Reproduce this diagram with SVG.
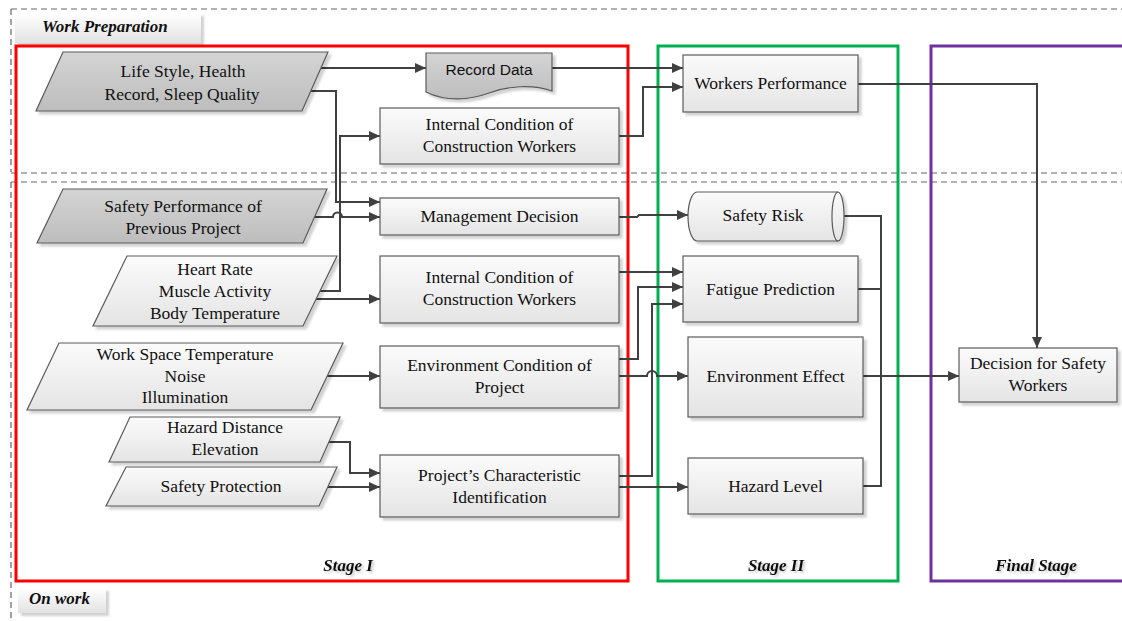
<svg xmlns="http://www.w3.org/2000/svg" width="1122" height="621" viewBox="0 0 1122 621">
<defs>
<linearGradient id="gl" x1="0" y1="0" x2="0" y2="1"><stop offset="0" stop-color="#fbfbfb"/><stop offset="1" stop-color="#e4e4e4"/></linearGradient>
<linearGradient id="gd" x1="0" y1="0" x2="0" y2="1"><stop offset="0" stop-color="#d4d4d4"/><stop offset="1" stop-color="#bdbdbd"/></linearGradient>
<linearGradient id="gt" x1="0" y1="0" x2="0" y2="1"><stop offset="0" stop-color="#ffffff"/><stop offset="1" stop-color="#e2e2e2"/></linearGradient>
<filter id="sh" x="-10%" y="-10%" width="130%" height="140%"><feDropShadow dx="3" dy="3" stdDeviation="1.2" flood-color="#000" flood-opacity="0.18"/></filter>
<filter id="ts" x="-10%" y="-30%" width="130%" height="170%"><feDropShadow dx="2" dy="2" stdDeviation="0.8" flood-color="#000" flood-opacity="0.2"/></filter>
<marker id="ar" markerUnits="userSpaceOnUse" markerWidth="12" markerHeight="10" refX="11" refY="5" orient="auto"><path d="M0,0 L11,5 L0,10 Z" fill="#404040"/></marker>
</defs>
<style>
.box{fill:url(#gl);stroke:#5a5a5a;stroke-width:1.2;filter:url(#sh)}
.dark{fill:url(#gd);stroke:#5a5a5a;stroke-width:1.2;filter:url(#sh)}
.t{font-family:"Liberation Serif","Times New Roman",serif;font-size:17.5px;fill:#111;text-anchor:middle}
.s{font-family:"Liberation Sans",Arial,sans-serif;font-size:15.5px;fill:#111;text-anchor:middle}
.lab{font-family:"Liberation Serif","Times New Roman",serif;font-size:17px;font-weight:bold;font-style:italic;fill:#111}
.stage{font-family:"Liberation Serif","Times New Roman",serif;font-size:17px;font-weight:bold;font-style:italic;fill:#111;text-anchor:middle;filter:url(#ts)}
.c{fill:none;stroke:#404040;stroke-width:2}
.dash1{fill:none;stroke:#666;stroke-width:1.2;stroke-dasharray:6 4}
</style>
<rect width="1122" height="621" fill="#fff"/>
<g id="frames">
<path class="dash1" d="M11,9 H1122 M11,9 V172 M11,173 H1122" />
<path class="dash1" d="M11,182 H1122 M11,182 V621" stroke="#444"/>
<rect x="15" y="13" width="186" height="30" fill="url(#gt)" filter="url(#sh)"/>
<text class="lab" x="42" y="32">Work Preparation</text>
<rect x="18" y="588" width="88" height="25" fill="url(#gt)" filter="url(#sh)"/>
<text class="lab" x="29" y="604">On work</text>
<rect x="16" y="46" width="612" height="535" fill="none" stroke="#ff0000" stroke-width="3"/>
<rect x="658" y="46" width="240" height="535" fill="none" stroke="#00b050" stroke-width="3"/>
<path d="M1124,46 H931 V581 H1124" fill="none" stroke="#7030a0" stroke-width="3"/>
<text class="stage" x="348" y="571">Stage I</text>
<text class="stage" x="776" y="571">Stage II</text>
<text class="stage" x="1036" y="571">Final Stage</text>
</g>
<g id="connectors">
<path class="c" d="M321,68 H426" marker-end="url(#ar)"/>
<path class="c" d="M552,68 H683" marker-end="url(#ar)"/>
<path class="c" d="M311,91 H336 V202 H380" marker-end="url(#ar)"/>
<path class="c" d="M319,291 H340 V136 H380" marker-end="url(#ar)"/>
<path class="c" d="M315,217 H333 A4.5,4.5 0 0 1 342,217 H380" marker-end="url(#ar)"/>
<path class="c" d="M316,299 H380" marker-end="url(#ar)"/>
<path class="c" d="M327,376 H380" marker-end="url(#ar)"/>
<path class="c" d="M329,442 H350 V473 H380" marker-end="url(#ar)"/>
<path class="c" d="M328,487 H380" marker-end="url(#ar)"/>
<path class="c" d="M619,136 H643 V87 H683" marker-end="url(#ar)"/>
<path class="c" d="M619,217 H637 L639,215 H688" marker-end="url(#ar)"/>
<path class="c" d="M619,272 H683" marker-end="url(#ar)"/>
<path class="c" d="M619,359 H638 V287 H683" marker-end="url(#ar)"/>
<path class="c" d="M619,476 H652 V304 H683" marker-end="url(#ar)"/>
<path class="c" d="M619,376 H647 A5,5 0 0 1 657,376 H688" marker-end="url(#ar)"/>
<path class="c" d="M619,487 H688" marker-end="url(#ar)"/>
<path class="c" d="M858,84 H1037 V348" marker-end="url(#ar)"/>
<path class="c" d="M844,216 H881 V486 H863"/>
<path class="c" d="M858,289 H881"/>
<path class="c" d="M863,376 H959" marker-end="url(#ar)"/>
</g>
<g id="n-lifestyle">
<polygon class="dark" points="63,52 328,52 302,111 36,111"/>
<text class="t" x="183" y="77">Life Style, Health</text>
<text class="t" x="182" y="100">Record, Sleep Quality</text>
</g>
<g id="n-recorddata">
<path d="M426,53 H552 V91 C532,84 508,86 489,93 C470,100 446,102 426,92 Z" fill="url(#gd)" stroke="#5a5a5a" stroke-width="1.2" filter="url(#sh)"/>
<text class="s" x="489" y="75">Record Data</text>
</g>
<g id="n-internal1">
<rect class="box" x="380" y="108" width="239" height="56"/>
<text class="t" x="499.5" y="130">Internal Condition of</text>
<text class="t" x="499.5" y="152">Construction Workers</text>
</g>
<g id="n-workersperf">
<rect class="box" x="683" y="55" width="175" height="57"/>
<text class="t" x="770.5" y="89">Workers Performance</text>
</g>
<g id="n-safetyperf">
<polygon class="dark" points="63,189 327,189 303,243 37,243"/>
<text class="t" x="183" y="212">Safety Performance of</text>
<text class="t" x="183" y="234">Previous Project</text>
</g>
<g id="n-mgmt">
<rect class="box" x="380" y="198" width="239" height="37"/>
<text class="t" x="499.5" y="222">Management Decision</text>
</g>
<g id="n-heartrate">
<polygon class="box" points="127,256 337,256 303,326 93,326"/>
<text class="t" x="215" y="275">Heart Rate</text>
<text class="t" x="215" y="297">Muscle Activity</text>
<text class="t" x="215" y="319">Body Temperature</text>
</g>
<g id="n-internal2">
<rect class="box" x="380" y="256" width="239" height="67"/>
<text class="t" x="499.5" y="283">Internal Condition of</text>
<text class="t" x="499.5" y="305">Construction Workers</text>
</g>
<g id="n-workspace">
<polygon class="box" points="59,343 343,343 311,410 27,410"/>
<text class="t" x="185" y="360">Work Space Temperature</text>
<text class="t" x="185" y="382">Noise</text>
<text class="t" x="185" y="403">Illumination</text>
</g>
<g id="n-envcond">
<rect class="box" x="380" y="346" width="239" height="62"/>
<text class="t" x="499.5" y="371">Environment Condition of</text>
<text class="t" x="499.5" y="393">Project</text>
</g>
<g id="n-hazarddist">
<polygon class="box" points="130,417 340,417 320,462 109,462"/>
<text class="t" x="225" y="433">Hazard Distance</text>
<text class="t" x="225" y="455">Elevation</text>
</g>
<g id="n-safetyprot">
<polygon class="box" points="126,467 337,467 319,506 106,506"/>
<text class="t" x="221" y="492">Safety Protection</text>
</g>
<g id="n-project">
<rect class="box" x="380" y="455" width="239" height="62"/>
<text class="t" x="499.5" y="481">Project’s Characteristic</text>
<text class="t" x="499.5" y="503">Identification</text>
</g>
<g id="n-safetyrisk">
<path d="M697,192 H838 A6,24.5 0 0 1 838,241 H697 A9,24.5 0 0 1 697,192 Z" fill="url(#gl)" stroke="#5a5a5a" stroke-width="1.2" filter="url(#sh)"/>
<path d="M838,192 A6,24.5 0 0 0 838,241" fill="none" stroke="#5a5a5a" stroke-width="1.2"/>
<text class="t" x="763" y="221">Safety Risk</text>
</g>
<g id="n-fatigue">
<rect class="box" x="683" y="256" width="175" height="66"/>
<text class="t" x="770.5" y="295">Fatigue Prediction</text>
</g>
<g id="n-enveffect">
<rect class="box" x="688" y="337" width="175" height="80"/>
<text class="t" x="775.5" y="382">Environment Effect</text>
</g>
<g id="n-hazardlevel">
<rect class="box" x="688" y="458" width="175" height="56"/>
<text class="t" x="775.5" y="492">Hazard Level</text>
</g>
<g id="n-decision">
<rect class="box" x="959" y="348" width="158" height="54"/>
<text class="t" x="1038" y="369">Decision for Safety</text>
<text class="t" x="1038" y="391">Workers</text>
</g>
</svg>
